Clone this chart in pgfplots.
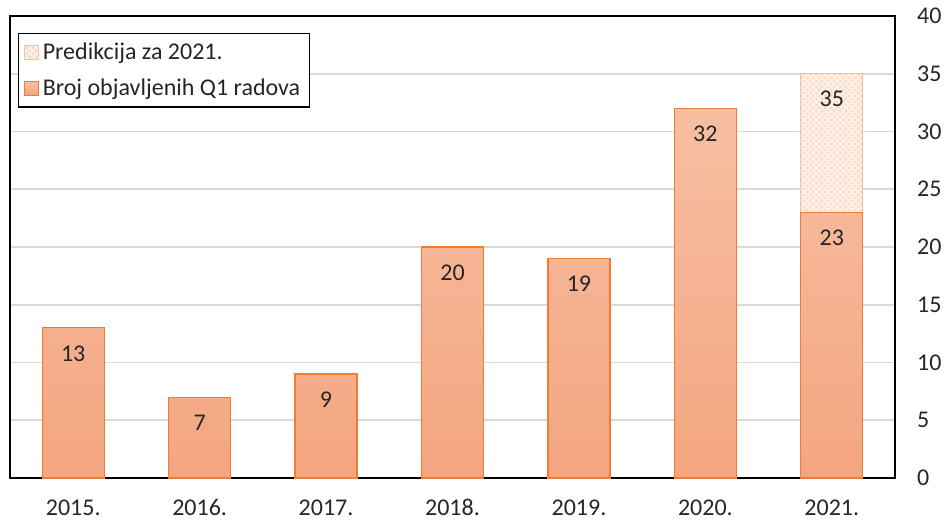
\documentclass[border=0pt]{standalone}
\usepackage{fontspec}
\setmainfont{Carlito}
\usepackage{pgfplots}
\pgfplotsset{compat=1.18}
\usetikzlibrary{patterns}
\definecolor{barline}{RGB}{237,125,49}
\definecolor{bartop}{RGB}{247,191,163}
\definecolor{barbot}{RGB}{244,165,128}
\definecolor{predfill}{RGB}{253,238,228}
\definecolor{predpat}{RGB}{246,205,185}
\definecolor{predline}{RGB}{248,190,160}
\definecolor{gridc}{RGB}{217,217,217}
\definecolor{txt}{RGB}{38,38,38}
\begin{document}
\begin{tikzpicture}
\path[use as bounding box] (0,0) rectangle (472.5pt,259.5pt);
\begin{axis}[
  at={(5pt,20.5pt)}, anchor=south west,
  scale only axis, width=442.5pt, height=231pt,
  xmin=-0.5, xmax=6.5, ymin=0, ymax=40,
  ytick={0,5,...,40},
  xtick={0,...,6},
  xticklabels={2015.,2016.,2017.,2018.,2019.,2020.,2021.},
  yticklabel pos=right,
  major tick length=0pt,
  ymajorgrids, grid style={gridc, line width=0.8pt},
  axis line style={black, line width=0.8pt},
  /pgf/number format/assume math mode=true,
  tick label style={font=\fontsize{12}{14}\selectfont, text=txt},
  yticklabel style={anchor=west, xshift=7.5pt},
  xticklabel style={yshift=-7.2pt},
  ybar, bar width=31pt, bar shift=0pt,
  nodes near coords,
  every node near coord/.append style={anchor=north, yshift=-5.2pt, font=\fontsize{12}{14}\selectfont, text=txt},
  legend style={at={(0.009,0.963)}, anchor=north west, draw=black, line width=0.6pt,
    font=\fontsize{12}{14}\selectfont, text=txt, row sep=4pt, inner sep=2.5pt},
  legend cell align=left,
  area legend,
]
\addplot[draw=predline, line width=0.6pt, fill=predfill, postaction={pattern=crosshatch dots, pattern color=predpat},
  legend image code/.code={\draw[draw=predline, fill=predfill, postaction={pattern=crosshatch dots, pattern color=predpat}] (0pt,-3.5pt) rectangle (7pt,3.5pt);}]
  coordinates {(6,35)};
\addlegendentry{Predikcija za 2021.}
\addplot[draw=barline, line width=0.6pt, top color=bartop, bottom color=barbot,
  legend image code/.code={\draw[draw=barline, fill=barbot!85!bartop] (0pt,-3.5pt) rectangle (7pt,3.5pt);}]
  coordinates {(0,13) (1,7) (2,9) (3,20) (4,19) (5,32) (6,23)};
\addlegendentry{Broj objavljenih Q1 radova}
\end{axis}
\end{tikzpicture}
\end{document}
